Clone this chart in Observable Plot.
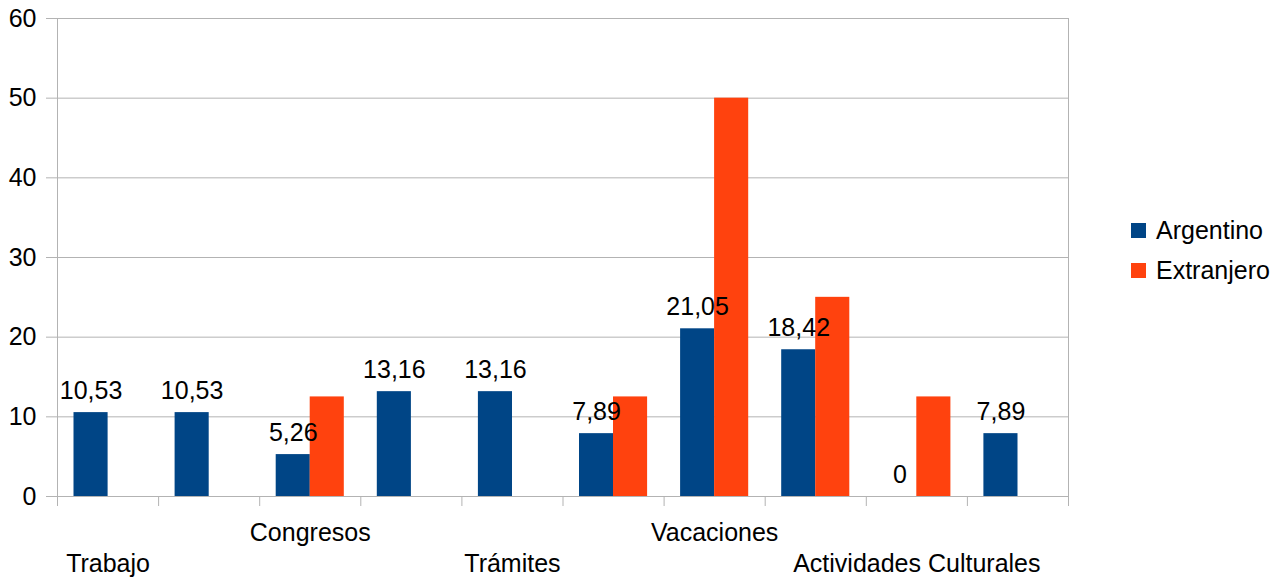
<!DOCTYPE html>
<html>
<head>
<meta charset="utf-8">
<script src="https://cdn.jsdelivr.net/npm/d3@7"></script>
<script src="https://cdn.jsdelivr.net/npm/@observablehq/plot@0.6"></script>
<style>
  html, body { margin: 0; padding: 0; background: #fff; }
  #wrap { position: relative; width: 1286px; height: 581px; font-family: "Liberation Sans", Arial, sans-serif; }
  #legend { position: absolute; left: 1131px; top: 210px; font-size: 25px; color: #000; }
  .row { display: flex; align-items: center; height: 40px; }
  .sw { width: 15px; height: 15px; margin-right: 10px; }
</style>
</head>
<body>
<div id="wrap"><div id="legend"></div></div>
<script>
const categories = ["Trabajo", "", "Congresos", "", "Trámites", "", "Vacaciones", "", "Actividades Culturales", ""];
const labelRow = [2, 2, 1, 2, 2, 2, 1, 2, 2, 2];
const argentino = [10.53, 10.53, 5.26, 13.16, 13.16, 7.89, 21.05, 18.42, 0, 7.89];
const extranjero = [null, null, 12.5, null, null, 12.5, 50, 25, 12.5, null];
const series = ["Argentino", "Extranjero"];
const colors = ["#004586", "#ff420e"];
const yTicks = [0, 10, 20, 30, 40, 50, 60];

const data = categories.map((c, i) => ({i, cat: c, arg: argentino[i], ext: extranjero[i], row: labelRow[i]}));
const fmt = v => String(v).replace(".", ",");
const grid = "#b3b3b3";
const fs = 25;

const chart = Plot.plot({
  width: 1286,
  height: 581,
  marginLeft: 57,
  marginRight: 218,
  marginTop: 18,
  marginBottom: 85,
  style: {fontFamily: "Liberation Sans, Arial, sans-serif", fontSize: fs + "px", color: "#000", background: "transparent"},
  x: {type: "linear", domain: [0, categories.length], axis: null},
  y: {domain: [0, 60], axis: null},
  marks: [
    Plot.gridY(yTicks, {stroke: grid, strokeOpacity: 1, strokeWidth: 1}),
    Plot.frame({stroke: grid, strokeWidth: 1}),
    Plot.axisY(yTicks, {tickSize: 11, tickPadding: 10, stroke: grid, strokeOpacity: 1, fontSize: fs, fill: "#000", label: null}),
    Plot.axisX(d3.range(categories.length + 1), {tickSize: 10, tickFormat: () => "", stroke: grid, strokeOpacity: 1, label: null}),
    Plot.rectY(data, {x1: d => d.i, x2: d => d.i + 1, y: "arg", fill: colors[0], insetLeft: 16.5, insetRight: 50.5}),
    Plot.rectY(data.filter(d => d.ext != null), {x1: d => d.i, x2: d => d.i + 1, y: "ext", fill: colors[1], insetLeft: 50.5, insetRight: 16.5}),
    Plot.text(data, {x: d => d.i + 0.5, y: "arg", text: d => fmt(d.arg), dx: -17, dy: -14, lineAnchor: "bottom", fontSize: fs, fill: "#000"}),
    Plot.text(data.filter(d => d.cat !== "" && d.row === 1), {x: d => d.i + 0.5, y: () => 0, text: "cat", dy: 44, lineAnchor: "bottom", fontSize: fs, fill: "#000"}),
    Plot.text(data.filter(d => d.cat !== "" && d.row === 2), {x: d => d.i + 0.5, y: () => 0, text: "cat", dy: 75, lineAnchor: "bottom", fontSize: fs, fill: "#000"})
  ]
});
document.getElementById("wrap").prepend(chart);

const legend = document.getElementById("legend");
series.forEach((s, k) => {
  const row = document.createElement("div");
  row.className = "row";
  const sw = document.createElement("div");
  sw.className = "sw";
  sw.style.background = colors[k];
  const t = document.createElement("span");
  t.textContent = s;
  row.appendChild(sw);
  row.appendChild(t);
  legend.appendChild(row);
});
</script>
</body>
</html>
